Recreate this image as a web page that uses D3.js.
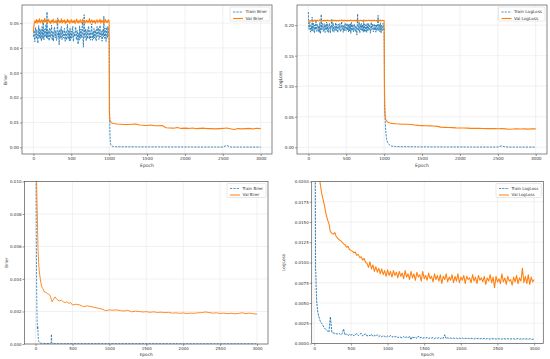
<!DOCTYPE html>
<html>
<head>
<meta charset="utf-8">
<script src="https://cdn.jsdelivr.net/npm/d3@7"></script>
<style>
  body { margin: 0; background: #fff; }
  svg { display: block; font-family: "DejaVu Sans", sans-serif; }
</style>
</head>
<body>
<svg id="chart" width="550" height="359"></svg>
<script>
// ---------- run A (top row): 3000 epochs, jump at epoch 1000 ----------
var trainHeadEpochsA = d3.range(0, 1001, 5);
var valHeadEpochsA = d3.range(0, 1001, 10);

var trainBrierHead = [
  .0445,.0458,.0470,.0436,.0425,.0467,.0482,.0449,.0438,.0474,.0461,.0433,.0419,.0462,.0490,.0441,.0447,.0479,.0436,.0455,
  .0472,.0428,.0441,.0486,.0458,.0437,.0515,.0451,.0432,.0476,.0468,.0444,.0452,.0495,.0489,.0439,.0545,.0466,.0437,.0471,
  .0463,.0435,.0429,.0480,.0478,.0442,.0446,.0470,.0492,.0438,.0431,.0465,.0467,.0427,.0449,.0483,.0484,.0446,.0440,.0469,
  .0456,.0430,.0432,.0491,.0521,.0447,.0443,.0466,.0412,.0458,.0475,.0439,.0451,.0484,.0486,.0434,.0434,.0471,.0462,.0440,
  .0448,.0473,.0479,.0436,.0427,.0464,.0466,.0432,.0441,.0488,.0495,.0445,.0436,.0469,.0459,.0428,.0473,.0481,.0430,.0457,
  .0468,.0439,.0444,.0477,.0487,.0433,.0426,.0463,.0461,.0446,.0452,.0485,.0481,.0437,.0433,.0470,.0470,.0442,.0415,.0459,
  .0457,.0431,.0489,.0452,.0438,.0475,.0476,.0441,.0447,.0492,.0505,.0436,.0403,.0467,.0534,.0448,.0442,.0477,.0463,.0429,
  .0429,.0468,.0474,.0437,.0450,.0482,.0488,.0444,.0435,.0470,.0467,.0431,.0445,.0479,.0497,.0440,.0431,.0466,.0460,.0436,
  .0478,.0443,.0440,.0472,.0465,.0430,.0428,.0469,.0486,.0447,.0449,.0481,.0471,.0434,.0437,.0475,.0491,.0450,.0444,.0468,
  .0459,.0427,.0433,.0473,.0476,.0445,.0528,.0462,.0439,.0480,.0468,.0436,.0426,.0471,.0484,.0441,.0452,.0487,.0474,.0446,
  .0441];

var valBrierHead = [
  .0462,.0497,.0509,.0502,.0514,.0500,.0511,.0504,.0517,.0501,
  .0508,.0513,.0499,.0510,.0503,.0519,.0505,.0512,.0500,.0507,
  .0515,.0502,.0509,.0498,.0511,.0504,.0516,.0501,.0508,.0503,
  .0512,.0499,.0506,.0514,.0501,.0509,.0503,.0517,.0500,.0510,
  .0505,.0513,.0498,.0508,.0502,.0515,.0504,.0511,.0499,.0507,
  .0514,.0501,.0509,.0503,.0512,.0498,.0506,.0516,.0502,.0510,
  .0500,.0508,.0513,.0501,.0507,.0515,.0503,.0511,.0499,.0506,
  .0512,.0502,.0509,.0504,.0518,.0500,.0507,.0513,.0501,.0510,
  .0503,.0511,.0498,.0508,.0514,.0502,.0509,.0505,.0516,.0500,
  .0510,.0504,.0512,.0499,.0507,.0515,.0502,.0509,.0503,.0513,
  .0508];

var trainLossHead = [
  .2215,.1958,.1930,.2025,.2045,.1912,.1885,.1995,.1990,.1905,.2130,.1948,.1902,.2035,.2010,.1890,.1875,.2002,.1968,.1925,
  .2085,.1898,.1915,.2010,.2020,.1935,.1890,.1982,.1975,.1880,.2040,.1955,.1860,.2018,.2175,.1920,.1945,.2030,.1998,.1895,
  .1908,.1990,.2025,.1912,.1880,.2005,.1962,.1925,.2050,.1945,.1895,.2022,.1985,.1882,.1918,.1995,.2032,.1928,.1870,.1985,
  .1952,.2012,.2095,.1935,.1898,.2040,.2008,.1902,.1885,.1978,.1970,.1915,.2042,.1960,.1912,.2015,.1990,.1888,.1878,.1998,
  .2015,.1920,.1925,.2028,.1960,.1895,.1892,.2010,.2060,.1930,.1940,.1992,.1882,.1945,.2002,.1905,.1935,.2038,.1975,.1910,
  .1905,.2000,.2030,.1918,.1950,.2015,.1888,.1942,.2018,.1898,.1965,.2025,.1865,.1955,.2045,.1908,.1920,.2012,.1995,.1890,
  .1932,.2020,.2012,.1900,.1895,.1985,.1980,.1925,.1838,.2010,.2185,.1915,.1910,.2000,.2052,.1895,.1872,.2015,.1988,.1920,
  .2028,.1935,.1902,.2008,.1958,.1885,.2070,.1942,.1890,.2018,.1945,.1900,.2005,.1962,.1880,.2025,.1972,.1910,.2035,.1940,
  .1915,.2012,.1992,.1898,.1868,.1990,.2048,.1925,.1938,.2020,.1978,.1892,.1895,.2010,.2022,.1918,.1950,.2000,.1885,.1962,
  .2010,.1908,.1930,.2025,.2160,.1942,.1905,.2012,.1982,.1890,.2040,.1958,.1875,.2002,.1968,.1912,.1920,.2030,.2012,.1925,
  .1950];

var valLossHead = [
  .2040,.2062,.2075,.2068,.2082,.2070,.2077,.2065,.2084,.2071,
  .2079,.2066,.2081,.2073,.2069,.2086,.2072,.2078,.2064,.2080,
  .2070,.2083,.2067,.2076,.2071,.2085,.2068,.2079,.2073,.2066,
  .2082,.2072,.2077,.2069,.2084,.2071,.2078,.2065,.2080,.2074,
  .2068,.2081,.2072,.2076,.2087,.2070,.2079,.2067,.2083,.2073,
  .2077,.2066,.2082,.2071,.2078,.2069,.2085,.2072,.2076,.2068,
  .2081,.2073,.2079,.2065,.2084,.2070,.2077,.2074,.2069,.2082,
  .2071,.2078,.2067,.2086,.2073,.2079,.2068,.2080,.2072,.2076,
  .2083,.2069,.2075,.2081,.2066,.2078,.2073,.2084,.2070,.2077,
  .2068,.2082,.2074,.2079,.2071,.2085,.2067,.2076,.2080,.2072,
  .2075];

var tailEpochsA = [1003,1006,1010,1015,1020,1030,1045,1060,1080,1100,
  1150,1200,1250,1300,1350,1400,1450,1500,1550,1600,1650,1700,1750,1800,1850,
  1900,1950,2000,2050,2100,2150,2200,2250,2300,2350,2400,2450,2500,2550,2600,
  2650,2700,2750,2800,2850,2900,2950,3000];

var trainBrierTail = [.030,.014,.006,.0025,.0012,.0006,.0004,.0003,.00025,.0002,
  .00020,.00018,.00019,.00017,.00018,.00016,.00017,.00016,.00015,.00016,.00015,.00014,.00015,.00014,.00013,
  .00014,.00013,.00012,.00013,.00012,.00012,.00011,.00012,.00011,.00011,.00010,.00011,.00010,.00075,.00012,
  .00010,.00009,.00010,.00009,.00009,.00008,.00009,.00008];

var valBrierTail = [.0150,.0121,.0111,.0105,.0102,.0099,.0097,.0096,.0095,.0094,
  .0093,.0092,.0092,.0093,.0094,.0090,.0089,.0088,.0090,.0087,.0087,.0088,.0079,.0078,.0077,
  .0080,.0076,.0077,.0076,.0078,.0075,.0076,.0077,.0075,.0075,.0074,.0075,.0076,.0078,.0075,
  .0072,.0076,.0074,.0075,.0076,.0074,.0077,.0075];

var trainLossTail = [.140,.080,.060,.040,.028,.015,.0080,.0050,.0030,.0020,
  .0012,.0010,.0009,.0009,.0008,.0008,.0007,.0007,.0007,.0006,.0006,.0006,.0006,.0005,.0005,
  .0005,.0005,.0005,.0005,.0004,.0004,.0004,.0004,.0004,.0004,.0004,.0004,.0004,.0022,.0005,
  .0004,.0003,.0004,.0003,.0003,.0003,.0003,.0003];

var valLossTail = [.110,.070,.055,.049,.046,.0435,.0415,.0405,.0398,.0392,
  .0385,.0381,.0378,.0376,.0373,.0365,.0358,.0355,.0353,.0350,.0348,.0343,.0330,.0326,.0323,
  .0322,.0318,.0316,.0315,.0313,.0310,.0309,.0310,.0307,.0306,.0305,.0307,.0304,.0306,.0302,
  .0296,.0300,.0303,.0299,.0302,.0298,.0304,.0302];

// ---------- run B (bottom row) ----------
var trainBrierEpochsB = [0,5,10,15,20,25,30,35,40,50,60,80,100,150,200,210,215,220,230,260,300,500,1000,1500,2000,2500,3000];
var trainBrierB = [.040,.0150,.0068,.0032,.0016,.0009,.0011,.0005,.0002,.0001,.00006,.00004,.00004,.00003,.00003,.00006,.0006,.00005,.00003,.00003,.00002,.00002,.00002,.00002,.00001,.00001,.00001];

var valBrierEpochsB = [0,5,10,14,18,23,28,32,41,50,64,75,86,100,120,140,160,180,195,205,215,225,235,250,265,280,300,325,350,375,400,425,450,475,500,
  550,600,650,700,750,800,850,900,950,1000,1050,1100,1150,1200,1250,1300,1350,1400,1450,1500,1550,1600,1650,1700,1750,1800,1850,1900,1950,2000,
  2050,2100,2150,2200,2250,2300,2350,2400,2450,2500,2550,2600,2650,2700,2750,2800,2850,2900,2950,3000];
var valBrierB = [.030,.018,.0125,.0100,.0090,.0080,.0070,.0060,.0050,.0045,.0040,.0037,.0035,.0034,.0032,.00318,.0031,.00305,.0030,.0029,.0027,.0026,.0027,.0028,.0029,.0028,.0027,.00265,.0027,.0026,.00255,.0026,.0025,.00255,.0024,
  .00245,.0024,.0023,.00235,.0023,.00225,.0022,.00215,.00205,.0021,.00208,.0021,.00205,.00203,.00207,.00198,.00202,.0020,.00197,.00199,.00195,.00198,.00194,.00196,.00193,.00195,.0019,.00192,.00189,.00191,
  .00188,.0019,.00189,.00192,.00193,.00197,.00194,.0019,.00192,.00188,.0019,.00187,.00189,.00186,.00188,.00192,.00187,.0019,.00186,.00184];

var lossHeadEpochsB = [0,5,10,14,18,22,26,30,35,40,50,60,70,80,90,100];
var trainLossHeadB = [.300,.060,.030,.020,.0092,.0086,.0070,.0058,.0050,.0045,.0038,.0034,.0031,.0028,.0026,.0025];
var valHeadEpochsB = [0,10,20,30,40,50,60,70,80,90,100];
var valLossHeadB = [.060,.045,.036,.030,.026,.0235,.0225,.0208,.0198,.0192,.0186];

var tailEpochsB = d3.range(120, 3001, 20);
var trainLossTailB = [
  .0022,.0019,.0017,.00155,.0014,.0033,.00135,.0013,.00125,.0012,
  .00118,.00125,.00108,.0012,.0018,.00105,.00118,.00098,.00112,.00102,
  .00115,.00095,.0011,.00122,.00098,.00112,.00125,.00094,.00108,.00118,
  .00092,.00105,.00096,.00112,.00088,.0010,.00094,.00108,.00085,.00098,
  .00082,.00095,.00088,.00078,.00092,.00084,.00098,.00079,.00088,.00081,
  .00088,.00072,.00082,.00077,.00068,.00085,.00074,.00081,.0007,.0009,
  .00048,.00084,.0007,.00078,.00065,.00091,.00068,.00076,.00064,.00073,
  .00067,.00075,.00062,.00071,.00066,.00074,.0006,.0007,.00065,.00073,
  .00061,.00069,.00064,.00108,.00058,.0007,.00063,.00068,.00059,.00066,
  .00062,.00067,.00057,.00065,.00061,.00068,.00058,.00064,.0006,.00066,
  .00057,.00064,.0006,.00055,.00065,.00059,.00063,.00056,.00062,.00058,
  .00064,.00054,.00061,.00058,.00053,.00062,.00056,.0006,.00054,.00061,
  .00056,.00059,.00053,.00062,.00057,.00055,.0006,.00052,.00058,.00056,
  .00059,.00053,.00057,.00061,.00054,.00058,.00052,.0006,.00055,.00057,
  .00053,.00059,.00055,.00051,.00057];
var valLossTailB = [
  .0178,.0170,.0160,.0153,.0148,.0138,.0136,.0135,.0137,.0132,
  .0130,.0128,.0127,.0125,.0123,.0122,.0119,.0120,.0116,.0115,
  .0114,.0112,.0113,.0109,.0110,.0106,.0107,.0103,.0105,.0100,
  .0099,.0094,.0101,.0092,.0097,.0089,.0095,.0088,.0093,.0086,
  .0092,.0085,.0090,.0083,.0091,.0084,.0089,.0082,.0090,.0084,
  .0088,.0081,.0089,.0083,.0087,.0080,.0090,.0082,.0086,.0079,
  .0089,.0081,.0086,.0078,.0088,.0082,.0085,.0077,.0089,.0080,
  .0084,.0078,.0087,.0080,.0083,.0076,.0086,.0079,.0084,.0077,
  .0085,.0074,.0083,.0079,.0086,.0076,.0082,.0078,.0085,.0075,
  .0083,.0077,.0086,.0075,.0082,.0078,.0084,.0074,.0083,.0079,
  .0081,.0075,.0085,.0077,.0082,.0074,.0084,.0078,.0081,.0076,
  .0083,.0073,.0081,.0077,.0085,.0075,.0082,.0069,.0083,.0076,
  .0080,.0074,.0086,.0076,.0081,.0073,.0083,.0077,.0079,.0072,
  .0082,.0076,.0084,.0074,.0081,.0077,.0093,.0075,.0083,.0074,
  .0085,.0073,.0082,.0076,.0079];

var epochTicks = [0, 500, 1000, 1500, 2000, 2500, 3000];
var blue = "#1f77b4", orange = "#ff7f0e";

var svg = d3.select("#chart");

function drawPanel(p) {
  var x = d3.scaleLinear().domain(p.xDomain).range([p.left, p.right]);
  var y = d3.scaleLinear().domain(p.yDomain).range([p.bottom, p.top]);
  var g = svg.append("g");

  g.append("clipPath").attr("id", "clip" + p.id)
    .append("rect")
      .attr("x", p.left).attr("y", p.top)
      .attr("width", p.right - p.left).attr("height", p.bottom - p.top);

  // grid
  g.append("g").selectAll("line").data(epochTicks).enter().append("line")
      .attr("x1", d => x(d)).attr("x2", d => x(d))
      .attr("y1", p.top).attr("y2", p.bottom)
      .attr("stroke", "#e8e8e8").attr("stroke-width", 0.6);
  g.append("g").selectAll("line").data(p.yTicks).enter().append("line")
      .attr("x1", p.left).attr("x2", p.right)
      .attr("y1", d => y(d)).attr("y2", d => y(d))
      .attr("stroke", "#e8e8e8").attr("stroke-width", 0.6);

  var line = d3.line().x(d => x(d[0])).y(d => y(d[1]));
  p.series.forEach(function(s) {
    g.append("path")
      .datum(d3.zip(s.epochs, s.values))
      .attr("clip-path", "url(#clip" + p.id + ")")
      .attr("d", line)
      .attr("fill", "none")
      .attr("stroke", s.color)
      .attr("stroke-width", s.width)
      .attr("stroke-linejoin", "round")
      .attr("stroke-dasharray", s.dash || null);
  });

  // frame
  g.append("rect")
    .attr("x", p.left).attr("y", p.top)
    .attr("width", p.right - p.left).attr("height", p.bottom - p.top)
    .attr("fill", "none").attr("stroke", "#555").attr("stroke-width", 0.7);

  var xa = g.append("g").attr("transform", "translate(0," + p.bottom + ")")
    .call(d3.axisBottom(x).tickValues(epochTicks).tickSize(2).tickPadding(1.5).tickFormat(d3.format("d")));
  var ya = g.append("g").attr("transform", "translate(" + p.left + ",0)")
    .call(d3.axisLeft(y).tickValues(p.yTicks).tickSize(2).tickPadding(1).tickFormat(d3.format(p.yFmt)));
  [xa, ya].forEach(function(a) {
    a.select(".domain").remove();
    a.selectAll("line").attr("stroke", "#555").attr("stroke-width", 0.6);
    a.selectAll("text").attr("fill", "#333").style("font-size", p.font + "px").style("font-family", "DejaVu Sans");
  });

  g.append("text")
    .attr("x", (p.left + p.right) / 2).attr("y", p.xlabelY)
    .attr("text-anchor", "middle").attr("fill", "#333")
    .style("font-size", (p.font + 0.3) + "px")
    .text("Epoch");
  g.append("text")
    .attr("transform", "translate(" + p.ylabelX + "," + ((p.top + p.bottom) / 2) + ") rotate(-90)")
    .attr("text-anchor", "middle").attr("dy", "0.35em").attr("fill", "#333")
    .style("font-size", (p.font + 0.3) + "px")
    .text(p.ylabel);

  // legend
  var lg = g.append("g");
  var box = lg.append("rect").attr("fill", "#fff").attr("stroke", "#d0d0d0")
    .attr("stroke-width", 0.5).attr("rx", 1);
  var maxW = 0;
  p.series.forEach(function(s, i) {
    var yy = 5 + i * 6.5;
    lg.append("line").attr("x1", 3).attr("x2", 13).attr("y1", yy).attr("y2", yy)
      .attr("stroke", s.color).attr("stroke-width", s.legendWidth)
      .attr("stroke-dasharray", s.dash || null);
    var t = lg.append("text").attr("x", 15.5).attr("y", yy).attr("dy", "0.35em")
      .attr("fill", "#333").style("font-size", p.font + "px").text(s.label);
    maxW = Math.max(maxW, t.node().getComputedTextLength());
  });
  var bw = 15.5 + maxW + 3;
  box.attr("x", 0).attr("y", 0).attr("width", bw).attr("height", 14);
  lg.attr("transform", "translate(" + (p.right - bw - 2) + "," + (p.top + 2) + ")");
}

drawPanel({
  id: 1, left: 22, top: 5, right: 272, bottom: 154,
  xDomain: [-150, 3149], yDomain: [-0.0027, 0.0573],
  yTicks: [0, 0.01, 0.02, 0.03, 0.04, 0.05], yFmt: ".2f",
  ylabel: "Brier", ylabelX: 5.5, xlabelY: 167, font: 4.2,
  series: [
    { label: "Train Brier", epochs: trainHeadEpochsA.concat(tailEpochsA), values: trainBrierHead.concat(trainBrierTail),
      color: blue, width: 0.85, legendWidth: 0.8, dash: "2.2,1.1" },
    { label: "Val Brier", epochs: valHeadEpochsA.concat(tailEpochsA), values: valBrierHead.concat(valBrierTail),
      color: orange, width: 1.1, legendWidth: 1.1 }
  ]
});

drawPanel({
  id: 2, left: 297, top: 5, right: 547, bottom: 154,
  xDomain: [-150, 3149], yDomain: [-0.011, 0.233],
  yTicks: [0, 0.05, 0.10, 0.15, 0.20], yFmt: ".2f",
  ylabel: "LogLoss", ylabelX: 280.5, xlabelY: 167, font: 4.2,
  series: [
    { label: "Train LogLoss", epochs: trainHeadEpochsA.concat(tailEpochsA), values: trainLossHead.concat(trainLossTail),
      color: blue, width: 0.85, legendWidth: 0.8, dash: "2.2,1.1" },
    { label: "Val LogLoss", epochs: valHeadEpochsA.concat(tailEpochsA), values: valLossHead.concat(valLossTail),
      color: orange, width: 1.1, legendWidth: 1.1 }
  ]
});

drawPanel({
  id: 3, left: 24.5, top: 181.5, right: 268, bottom: 344,
  xDomain: [-150, 3149], yDomain: [0, 0.010],
  yTicks: [0, 0.002, 0.004, 0.006, 0.008, 0.010], yFmt: ".3f",
  ylabel: "Brier", ylabelX: 6, xlabelY: 356, font: 4,
  series: [
    { label: "Train Brier", epochs: trainBrierEpochsB, values: trainBrierB,
      color: blue, width: 0.8, legendWidth: 0.8, dash: "2.2,1.2" },
    { label: "Val Brier", epochs: valBrierEpochsB, values: valBrierB,
      color: orange, width: 0.9, legendWidth: 1 }
  ]
});

drawPanel({
  id: 4, left: 311.7, top: 181.5, right: 543.3, bottom: 343.5,
  xDomain: [-35, 3125], yDomain: [0, 0.020],
  yTicks: [0, 0.0025, 0.005, 0.0075, 0.010, 0.0125, 0.015, 0.0175, 0.020], yFmt: ".4f",
  ylabel: "LogLoss", ylabelX: 283.5, xlabelY: 356, font: 4,
  series: [
    { label: "Train LogLoss", epochs: lossHeadEpochsB.concat(tailEpochsB), values: trainLossHeadB.concat(trainLossTailB),
      color: blue, width: 0.95, legendWidth: 0.8, dash: "2.2,1" },
    { label: "Val LogLoss", epochs: valHeadEpochsB.concat(tailEpochsB), values: valLossHeadB.concat(valLossTailB),
      color: orange, width: 1.05, legendWidth: 1 }
  ]
});
</script>
</body>
</html>
